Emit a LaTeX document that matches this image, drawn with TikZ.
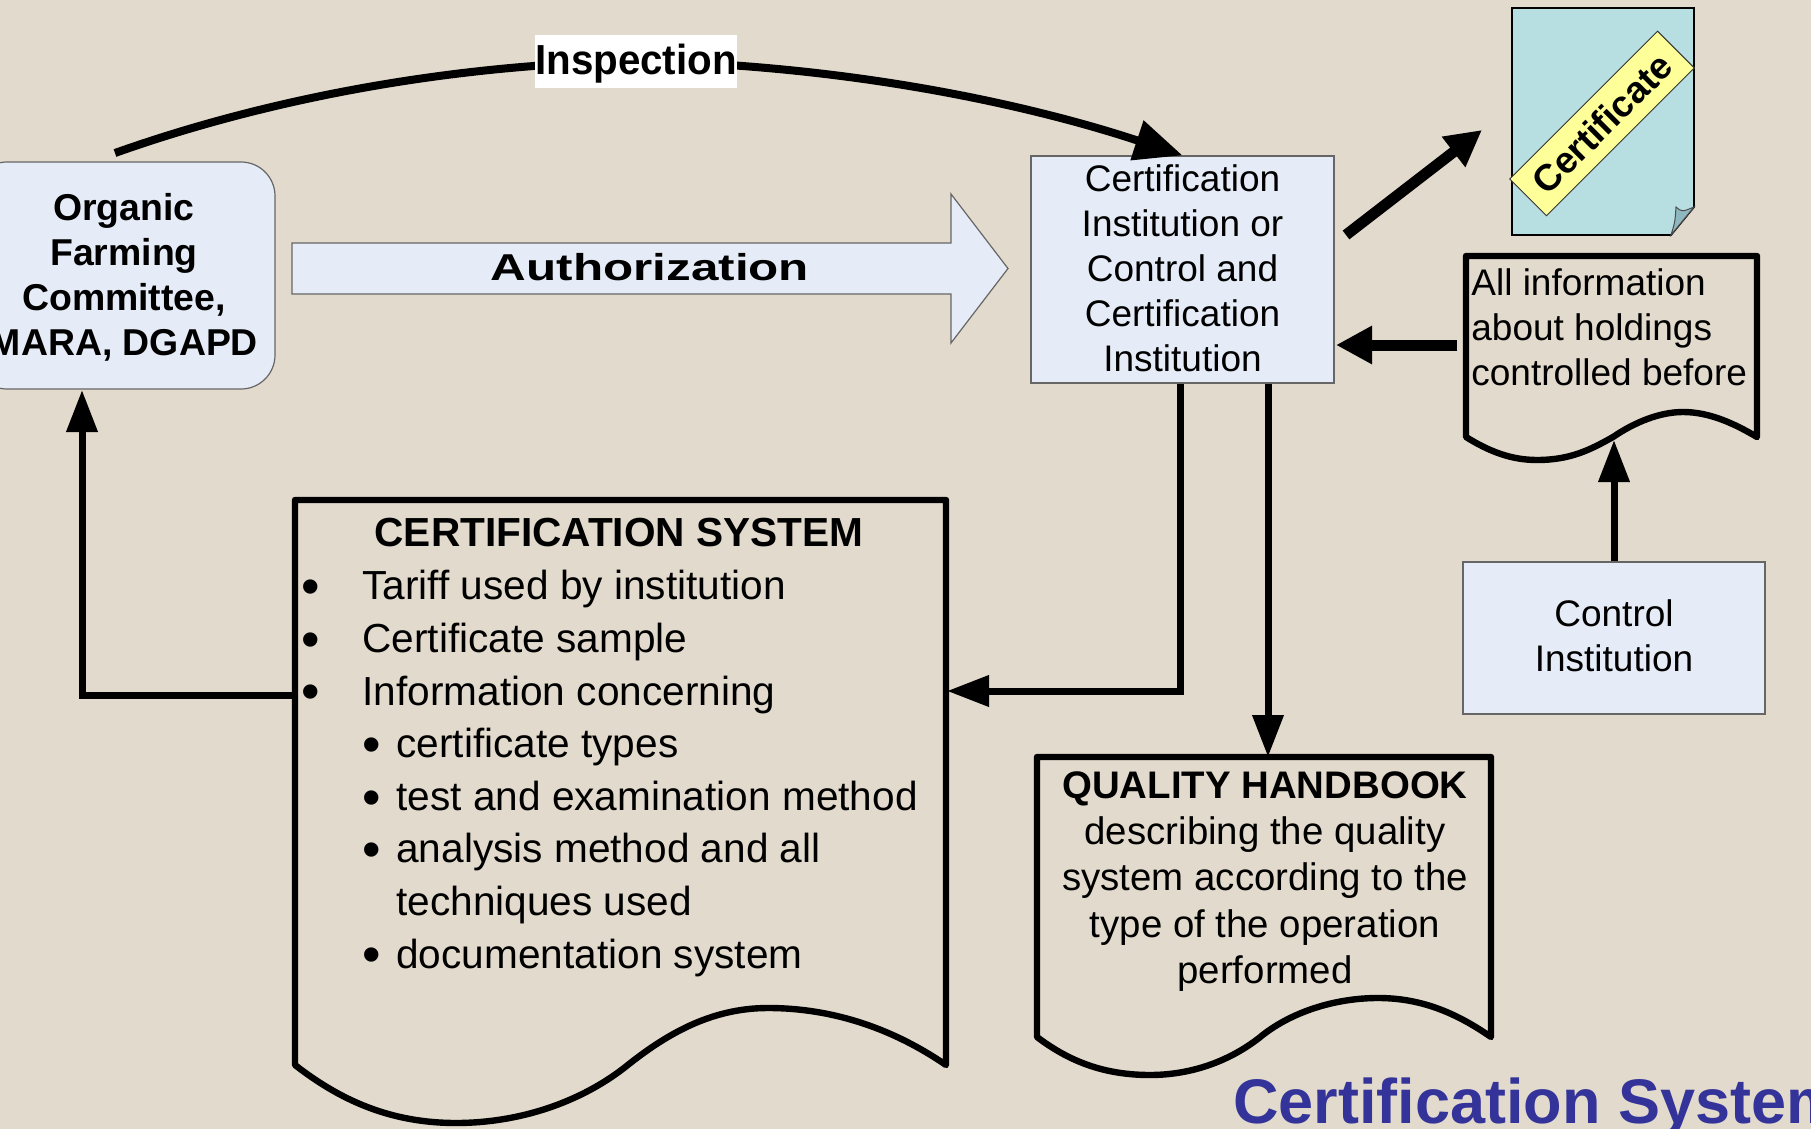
\documentclass[tikz,border=0pt]{standalone}
\usepackage{fontspec}
\usepackage{graphicx}
\usepackage{xcolor}
\setmainfont{Liberation Sans}
\usetikzlibrary{arrows.meta}
\definecolor{paper}{HTML}{E2DACC}
\definecolor{boxblue}{HTML}{E6ECF7}
\definecolor{sheet}{HTML}{B7DFE2}
\definecolor{sheetfold}{HTML}{8FB7BF}
\definecolor{band}{HTML}{FFFF99}
\definecolor{titleblue}{HTML}{333399}
\newcommand{\bigdot}{\raisebox{-2.4pt}{\scalebox{1.3}{\textbullet}}}
\newcommand{\lst}{\makebox[29pt][l]{\hspace*{-1.4pt}\bigdot}}
\newcommand{\sublst}{\hspace*{29.5pt}\makebox[16.5pt][l]{\hspace*{-0.6pt}\bigdot}}
\tikzset{
  flow/.style={line width=3.5pt,-{Triangle[length=21pt,width=15pt]}},
  inspflow/.style={line width=4pt,-{Triangle[length=24pt,width=20pt]}},
  bigflow/.style={line width=5.5pt,-{Triangle[length=18pt,width=18pt]}},
  doc/.style={line width=3.2pt,line join=round,line cap=round},
  bluebox/.style={draw=black!60,fill=boxblue,line width=0.6pt,inner sep=0pt},
  body/.style={font=\fontsize{18.5}{22.5}\selectfont,align=center},
  bodyb/.style={font=\fontsize{18.7}{22.5}\selectfont\bfseries,align=center}
}
\begin{document}
\begin{tikzpicture}[x=0.5pt,y=-0.5pt]
    \useasboundingbox (0,0) rectangle (1811,1129);
    \fill[paper] (0,0) rectangle (1811,1129);

    \node[bluebox,rounded corners=17pt,minimum width=151pt,minimum height=113.5pt,bodyb,text depth=0.7pt] (org) at (124,275.5)
       {Organic\\Farming\\Committee,\\MARA, DGAPD};
    \node[bluebox,minimum width=151.5pt,minimum height=113.5pt,body,text depth=1.2pt] (cert) at (1182.5,269.5)
       {Certification\\Institution or\\Control and\\Certification\\Institution};
    \node[bluebox,minimum width=151pt,minimum height=76pt,body,text depth=2pt] (ctrl) at (1614,638)
       {Control\\Institution};

    \draw[draw=black!60,fill=boxblue,line width=0.6pt] (292,243) -- (951,243) -- (951,194) -- (1008,268.5)
       -- (951,343) -- (951,294) -- (292,294) -- cycle;
    \node[font=\fontsize{18.7}{22}\selectfont\bfseries,xscale=1.32] (auth) at (650,267) {Authorization};

    \draw[draw=black,fill=sheet,line width=0.9pt] (1512,8) -- (1694,8) -- (1694,207) -- (1671,235)
       -- (1512,235) -- cycle;
    \draw[draw=black!70,fill=sheetfold,line width=0.5pt] (1671,235) .. controls (1675,222) .. (1676,207)
       .. controls (1682,212) .. (1694,207) -- cycle;
    \node[draw=black!80,fill=band,line width=0.5pt,rotate=45,minimum width=104.5pt,minimum height=26pt,
       inner sep=0pt,font=\fontsize{18.5}{22}\selectfont\bfseries] (seal) at (1602,123.5) {Certificate};

    \draw[doc] (1466,256) -- (1757,256) -- (1757,437) .. controls (1735,424) and (1710,412) .. (1683,412)
       .. controls (1660,412) and (1635,422) .. (1613,437) .. controls (1590,450) and (1570,460) .. (1537,460)
       .. controls (1512,460) and (1490,452) .. (1466,437) -- cycle;
    \node[body,align=left,anchor=west,inner sep=0pt] (info) at (1471,327)
       {All information\\about holdings\\controlled before};

    \draw[doc] (295,500) -- (946,500) -- (946,1065) .. controls (895,1030) and (835,1008) .. (768,1008)
       .. controls (710,1008) and (665,1035) .. (624,1068) .. controls (580,1102) and (520,1123) .. (456,1123)
       .. controls (390,1123) and (340,1100) .. (295,1065) -- cycle;
    \node[font=\fontsize{20.3}{24}\selectfont\bfseries] (systitle) at (619,533) {CERTIFICATION SYSTEM};
    \node[font=\fontsize{20.3}{26.3}\selectfont,align=left,anchor=north west,inner sep=0pt] (syslist) at (304,570)
       {\lst Tariff used by institution\\
        \lst Certificate sample\\
        \lst Information concerning\\
        \sublst certificate types\\
        \sublst test and examination method\\
        \sublst analysis method and all\\
        \hspace*{46pt}techniques used\\
        \sublst documentation system};

    \draw[doc] (1037,757) -- (1491,757) -- (1491,1037) .. controls (1455,1012) and (1420,998) .. (1378,998)
       .. controls (1335,998) and (1290,1012) .. (1259,1038) .. controls (1228,1062) and (1190,1075) .. (1150,1075)
       .. controls (1105,1075) and (1070,1062) .. (1037,1037) -- cycle;
    \node[font=\fontsize{19.2}{23.1}\selectfont,align=center] (hand) at (1265,881.5)
       {\textbf{QUALITY HANDBOOK}\\describing the quality\\system according to the\\type of the operation\\performed};

    \node[font=\fontsize{31.5}{36}\selectfont\bfseries,text=titleblue,anchor=base west,inner sep=0pt] (title) at (1233,1123)
       {Certification System};

    \coordinate (inspstart) at (115,153);
    \coordinate (inspmid) at (636,61);
    \coordinate (certout) at (1346,235);
    \coordinate (certin) at (1482,130);
    \coordinate (infoout) at (1457,345);
    \coordinate (infoin) at (1336,345);
    \coordinate (infoup) at (1614,440);
    \coordinate (sysin) at (947,691);
    \coordinate (sysout) at (295,695);
    \coordinate (orgin) at (82,390);
    \coordinate (handin) at (1268,757);

    \draw[inspflow] (inspstart) .. controls (250,105) and (430,65) .. (inspmid)
       .. controls (850,65) and (1030,105) .. (cert.north);
    \node[fill=white,inner sep=0pt,minimum width=103.5pt,minimum height=26.5pt,text depth=2.6pt,
       font=\fontsize{21}{24}\selectfont\bfseries,xscale=0.96] (insp) at (636,62) {Inspection};
    \draw[bigflow] (certout) -- (certin);
    \draw[bigflow] (infoout) -- (infoin);
    \draw[flow] (ctrl.north) -- (infoup);
    \draw[flow] ([xshift=-1pt]cert.south) |- (sysin);
    \draw[flow] (cert.south -| handin) -- (handin);
    \draw[flow] (sysout) -| (orgin);
  \end{tikzpicture}
\end{document}
